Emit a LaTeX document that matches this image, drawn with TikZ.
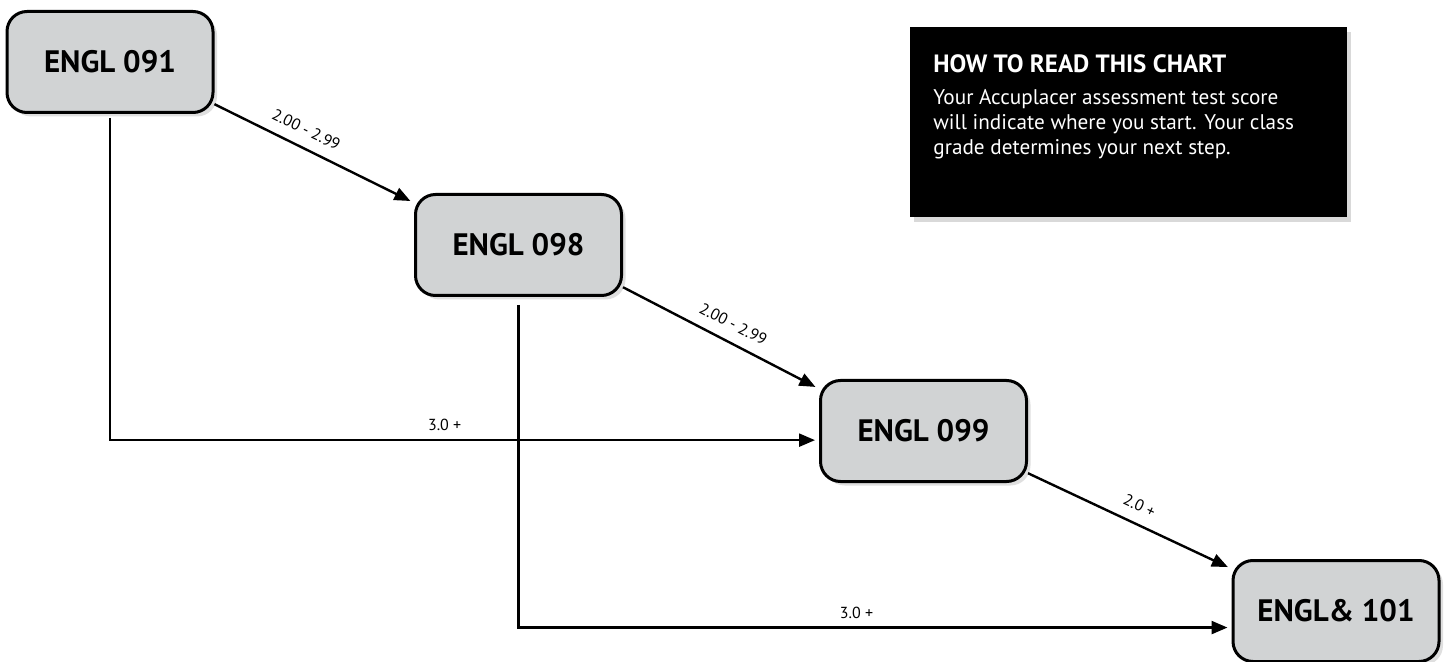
\documentclass[tikz,border=0pt]{standalone}
\usepackage{fontspec}
\setmainfont{PT Sans}
\usetikzlibrary{arrows.meta, shadows}
\usepackage{xcolor}
\definecolor{coursegray}{RGB}{209,211,212}

\tikzset{
  course/.style={rectangle, rounded corners=10pt, draw=black, line width=1.5pt, fill=coursegray,
    minimum width=103pt, minimum height=50.5pt, font=\fontsize{15.5}{18}\selectfont\bfseries,
    drop shadow={shadow xshift=2pt, shadow yshift=-2pt, opacity=0.25}},
  notebox/.style={rectangle, fill=black, text=white, inner sep=0pt, anchor=north west,
    drop shadow={shadow xshift=2pt, shadow yshift=-2.5pt, opacity=0.3}},
  link/.style={-{Triangle[length=8pt,width=6.5pt]}, line width=1.2pt, shorten >=2pt},
  grade/.style={font=\fontsize{8}{9}\selectfont, inner sep=1pt},
}

\begin{document}
\begin{tikzpicture}[x=0.5pt, y=-0.5pt]
    \useasboundingbox (0,0) rectangle (1445,662);

    % Nodes
    \node (e091) [course] at (110,62) {ENGL 091};
    \node (e098) [course] at (518.5,245) {ENGL 098};
    \node (e099) [course] at (923.5,431) {ENGL 099};
    \node (e101) [course] at (1336,611) {ENGL\& 101};
    \node (howto) [notebox] at (910,27) {\parbox[c][95pt][t]{218.5pt}{\leftskip=11.5pt
        \vspace*{13.5pt}{\fontsize{12.5}{14}\selectfont\bfseries HOW TO READ THIS CHART}\par
        \vspace{3.5pt}\fontsize{10.6}{12.5}\selectfont
        Your Accuplacer assessment test score\\
        will indicate where you start. Your class\\
        grade determines your next step.}};

    % Arrows
    \draw [link] (e091.-22) -- node (g091) [grade, sloped, above=4.5pt, pos=0.42] {2.00 - 2.99} (e098.158);
    \draw [link] (e098.-22) -- node (g098) [grade, sloped, above=4.5pt, pos=0.52] {2.00 - 2.99} (e099.158);
    \draw [link] (e099.-22) -- node (g099) [grade, sloped, above=4.5pt, pos=0.51] {2.0 +} (e101.158);
    \draw [link, shorten <=2pt] (e091.south) |- node (s091) [grade, above=3pt, pos=0.736] {3.0 +} (e099.185);
    \draw [link, shorten <=4pt] (e098.south) |- node (s098) [grade, above=3pt, pos=0.737] {3.0 +} (e101.189);
\end{tikzpicture}
\end{document}
